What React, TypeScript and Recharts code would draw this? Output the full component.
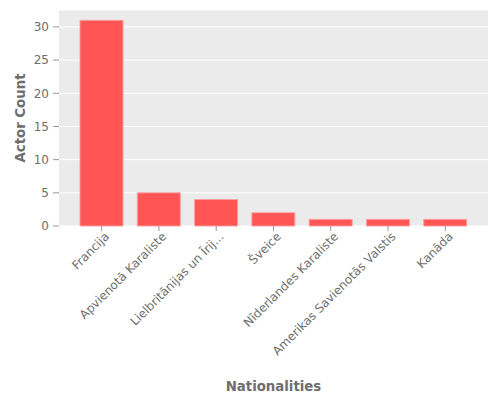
import React from 'react';
import { BarChart, Bar, XAxis, YAxis, CartesianGrid } from 'recharts';

const nationalities = [
  'Francija',
  'Apvienotā Karaliste',
  'Lielbritānijas un Īrij...',
  'Šveice',
  'Nīderlandes Karaliste',
  'Amerikas Savienotās Valstis',
  'Kanāda',
];
const actorCounts = [31, 5, 4, 2, 1, 1, 1];
const yTicks = [0, 5, 10, 15, 20, 25, 30];

const data = nationalities.map((name, i) => ({ name, count: actorCounts[i] }));

const textColor = '#6e6e6e';
const font = 'DejaVu Sans, sans-serif';

const XTick = (props: any) => {
  const { x, y, payload } = props;
  return (
    <g transform={`translate(${x + 4},${y})`}>
      <text
        x={0}
        y={0}
        dy={6}
        textAnchor="end"
        transform="rotate(-45)"
        fill={textColor}
        fontSize={12}
        fontFamily={font}
      >
        {payload.value}
      </text>
    </g>
  );
};

export default function App() {
  return (
    <div style={{ position: 'absolute', left: 0, top: 0, width: 500, height: 400, background: '#fff' }}>
      <BarChart
        width={500}
        height={400}
        data={data}
        margin={{ top: 10, right: 12, left: 0, bottom: 0 }}
        barSize={43}
      >
        <CartesianGrid vertical={false} stroke="#ffffff" strokeWidth={1} fill="#EBEBEB" />
        <XAxis
          dataKey="name"
          height={174}
          interval={0}
          axisLine={false}
          tickLine={{ stroke: '#999999' }}
          tickSize={5}
          padding={{ left: 14, right: 14 }}
          tick={<XTick />}
          label={{
            value: 'Nationalities',
            position: 'insideBottom',
            offset: 9,
            fill: textColor,
            fontSize: 13.3,
            fontWeight: 'bold',
            fontFamily: font,
          }}
        />
        <YAxis
          width={59}
          domain={[0, 32.55]}
          ticks={yTicks}
          axisLine={false}
          tickLine={{ stroke: '#999999' }}
          tickSize={6}
          tickMargin={4}
          tick={{ fill: textColor, fontSize: 12, fontFamily: font }}
          label={{
            value: 'Actor Count',
            angle: -90,
            position: 'insideLeft',
            offset: 20,
            style: { textAnchor: 'middle' },
            fill: textColor,
            fontSize: 13.3,
            fontWeight: 'bold',
            fontFamily: font,
          }}
        />
        <Bar dataKey="count" fill="#FF5555" stroke="#FFA0A0" strokeWidth={1} isAnimationActive={false} />
      </BarChart>
    </div>
  );
}
